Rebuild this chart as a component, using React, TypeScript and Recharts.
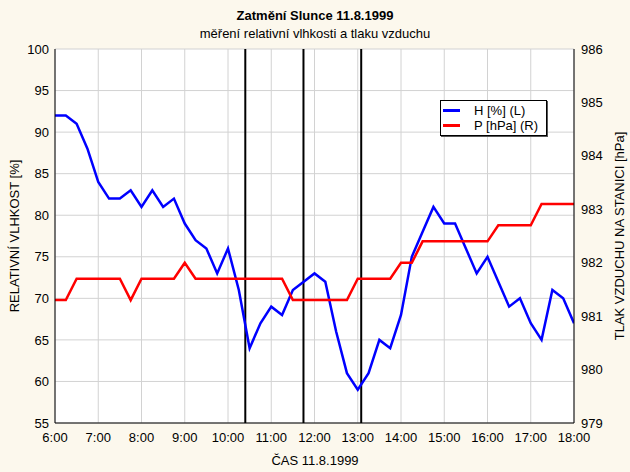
import { CartesianGrid, Legend, Line, LineChart, ReferenceLine, XAxis, YAxis } from "recharts";

const font = "'Liberation Sans', Arial, sans-serif";

const times = [
  "6:00", "6:15", "6:30", "6:45", "7:00", "7:15", "7:30", "7:45",
  "8:00", "8:15", "8:30", "8:45", "9:00", "9:15", "9:30", "9:45",
  "10:00", "10:15", "10:30", "10:45", "11:00", "11:15", "11:30", "11:45",
  "12:00", "12:15", "12:30", "12:45", "13:00", "13:15", "13:30", "13:45",
  "14:00", "14:15", "14:30", "14:45", "15:00", "15:15", "15:30", "15:45",
  "16:00", "16:15", "16:30", "16:45", "17:00", "17:15", "17:30", "17:45",
  "18:00",
];

// relativni vlhkost [%]
const humidity = [
  92, 92, 91, 88, 84, 82, 82, 83,
  81, 83, 81, 82, 79, 77, 76, 73,
  76, 71, 64, 67, 69, 68, 71, 72,
  73, 72, 66, 61, 59, 61, 65, 64,
  68, 75, 78, 81, 79, 79, 76, 73,
  75, 72, 69, 70, 67, 65, 71, 70,
  67,
];

// tlak na stanici [hPa]
const pressure = [
  981.3, 981.3, 981.7, 981.7, 981.7, 981.7, 981.7, 981.3,
  981.7, 981.7, 981.7, 981.7, 982.0, 981.7, 981.7, 981.7,
  981.7, 981.7, 981.7, 981.7, 981.7, 981.7, 981.3, 981.3,
  981.3, 981.3, 981.3, 981.3, 981.7, 981.7, 981.7, 981.7,
  982.0, 982.0, 982.4, 982.4, 982.4, 982.4, 982.4, 982.4,
  982.4, 982.7, 982.7, 982.7, 982.7, 983.1, 983.1, 983.1,
  983.1,
];

// zacatek, maximum a konec zatmeni (hodiny)
const eclipseMarks = [10.4, 11.745, 13.08];

const hourTicks = [6, 7, 8, 9, 10, 11, 12, 13, 14, 15, 16, 17, 18];
const humidityTicks = [55, 60, 65, 70, 75, 80, 85, 90, 95, 100];
const pressureTicks = [979, 980, 981, 982, 983, 984, 985, 986];

const seriesNames = ["H [%] (L)", "P [hPa] (R)"];
const seriesColors = ["#0000ff", "#ff0000"];

const toHours = (t: string) => {
  const [h, m] = t.split(":").map(Number);
  return h + m / 60;
};

const data = times.map((t, i) => ({ t: toHours(t), h: humidity[i], p: pressure[i] }));

// vedlejsi znacky na osach
const minorX = Array.from({ length: 49 }, (_, i) => 6 + i / 4);
const minorH = Array.from({ length: 46 }, (_, i) => 55 + i);
const minorP = Array.from({ length: 29 }, (_, i) => 979 + i / 4);

const tickStyle = { fill: "#000", fontSize: 13, fontFamily: font };

const LegendBox = () => (
  <div
    style={{
      border: "1px solid #000",
      background: "#fff",
      boxShadow: "1px 1px 0 #555",
      padding: "2px 8px 2px 2px",
      fontFamily: font,
      fontSize: 13,
      lineHeight: "15px",
      color: "#000",
    }}
  >
    {seriesNames.map((name, i) => (
      <div key={name} style={{ display: "flex", alignItems: "center", whiteSpace: "nowrap" }}>
        <span style={{ display: "inline-block", width: 17, height: 3, background: seriesColors[i], marginRight: 14 }} />
        {name}
      </div>
    ))}
  </div>
);

const textBase = {
  position: "absolute" as const,
  fontFamily: font,
  fontSize: 13,
  lineHeight: "15px",
  color: "#000",
  whiteSpace: "nowrap" as const,
};

export default function App() {
  return (
    <div style={{ position: "absolute", left: 0, top: 0, width: 630, height: 472, background: "#fcf8ed" }}>
      <LineChart width={630} height={472} data={data} margin={{ top: 49, right: 0, bottom: 0, left: 0 }}>
        <CartesianGrid xAxisId="x" yAxisId="h" stroke="#d2d2d2" fill="#fff" />
        <XAxis
          xAxisId="x"
          dataKey="t"
          type="number"
          domain={[6, 18]}
          ticks={hourTicks}
          tickFormatter={(v: number) => `${v}:00`}
          allowDataOverflow
          height={49}
          tickLine={false}
          tickSize={0}
          tickMargin={10}
          tick={tickStyle}
          axisLine={{ stroke: "#000" }}
        />
        <XAxis xAxisId="xb" type="number" domain={[6, 18]} ticks={minorX} allowDataOverflow mirror height={0} tick={false} tickSize={4} tickLine={{ stroke: "#000" }} axisLine={false} />
        <XAxis xAxisId="xt" orientation="top" type="number" domain={[6, 18]} ticks={minorX} allowDataOverflow mirror height={0} tick={false} tickSize={4} tickLine={{ stroke: "#000" }} axisLine={{ stroke: "#000" }} />
        <YAxis
          yAxisId="h"
          domain={[55, 100]}
          ticks={humidityTicks}
          allowDataOverflow
          width={55}
          tickLine={false}
          tickSize={0}
          tickMargin={6}
          tick={tickStyle}
          axisLine={{ stroke: "#000" }}
        />
        <YAxis yAxisId="hm" domain={[55, 100]} ticks={minorH} allowDataOverflow mirror width={0} tick={false} tickSize={3} tickLine={{ stroke: "#000" }} axisLine={false} />
        <YAxis
          yAxisId="p"
          orientation="right"
          domain={[979, 986]}
          ticks={pressureTicks}
          allowDataOverflow
          width={56}
          tickLine={false}
          tickSize={0}
          tickMargin={7}
          tick={tickStyle}
          axisLine={{ stroke: "#000" }}
        />
        <YAxis yAxisId="pm" orientation="right" domain={[979, 986]} ticks={minorP} allowDataOverflow mirror width={0} tick={false} tickSize={3} tickLine={{ stroke: "#000" }} axisLine={false} />
        {eclipseMarks.map((x) => (
          <ReferenceLine key={x} xAxisId="x" yAxisId="h" x={x} stroke="#000" strokeWidth={2} />
        ))}
        <Line xAxisId="x" yAxisId="h" dataKey="h" name={seriesNames[0]} stroke={seriesColors[0]} strokeWidth={2.5} dot={false} type="linear" isAnimationActive={false} />
        <Line xAxisId="x" yAxisId="p" dataKey="p" name={seriesNames[1]} stroke={seriesColors[1]} strokeWidth={2.5} dot={false} type="linear" isAnimationActive={false} />
        <Legend
          layout="vertical"
          align="center"
          verticalAlign="middle"
          content={() => <LegendBox />}
          wrapperStyle={{ left: 440, top: 100, width: "auto", height: "auto" }}
        />
      </LineChart>
      <div style={{ ...textBase, left: 0, width: 630, top: 8, textAlign: "center", fontWeight: "bold" }}>
        Zatmění Slunce 11.8.1999
      </div>
      <div style={{ ...textBase, left: 0, width: 630, top: 25.5, textAlign: "center" }}>
        měření relativní vlhkosti a tlaku vzduchu
      </div>
      <div style={{ ...textBase, left: 0, width: 630, top: 452.5, textAlign: "center" }}>ČAS 11.8.1999</div>
      <div style={{ ...textBase, left: 14, top: 236, transform: "translate(-50%, -50%) rotate(-90deg)" }}>
        RELATIVNÍ VLHKOST [%]
      </div>
      <div style={{ ...textBase, left: 619, top: 236, transform: "translate(-50%, -50%) rotate(-90deg)" }}>
        TLAK VZDUCHU NA STANICI [hPa]
      </div>
    </div>
  );
}
